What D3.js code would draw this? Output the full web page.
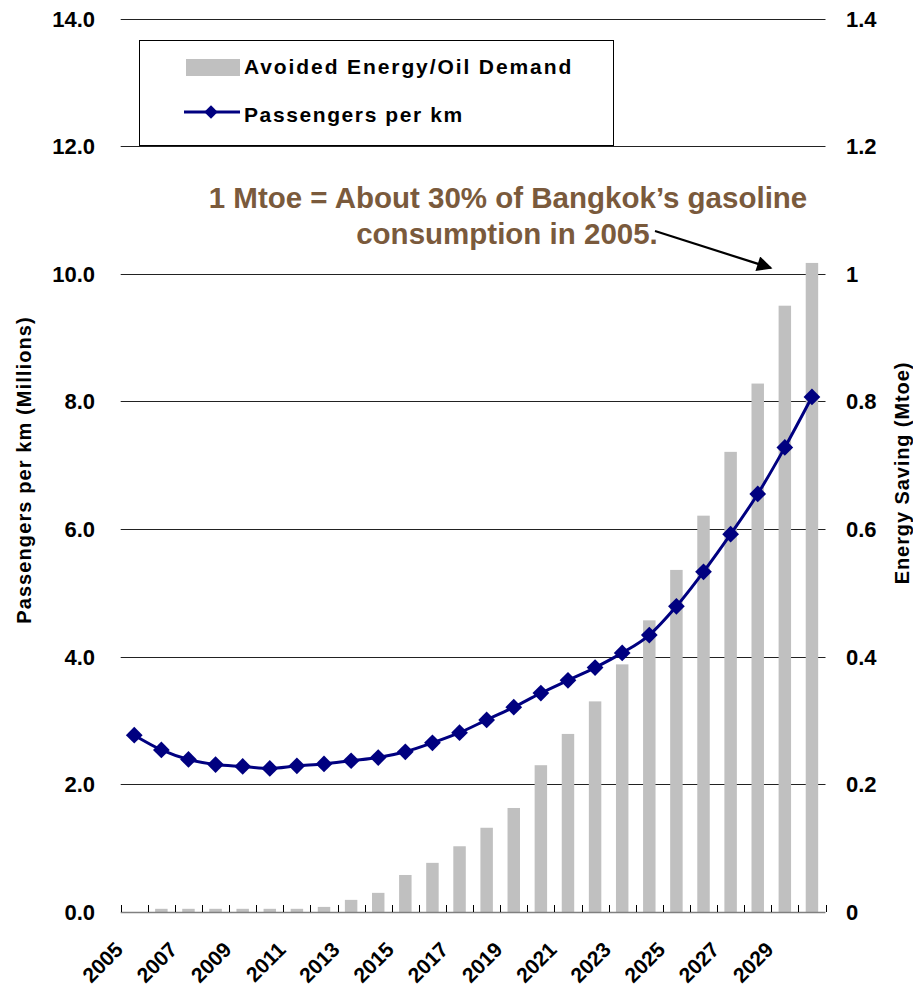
<!DOCTYPE html>
<html>
<head>
<meta charset="utf-8">
<script src="https://cdn.jsdelivr.net/npm/d3@7"></script>
<style>
  html, body { margin: 0; padding: 0; background: #fff; }
  svg text { font-family: Arial, "Liberation Sans", Helvetica, sans-serif; font-weight: bold; }
</style>
</head>
<body>
<svg id="chart" width="913" height="987"></svg>
<script>
// Yearly projection, 2005–2030
const years = d3.range(2005, 2031);
// Passengers per km (millions), left axis
const passengers = [2.77, 2.54, 2.39, 2.31, 2.28, 2.25, 2.29, 2.32, 2.37, 2.42, 2.51, 2.65, 2.81,
                    3.01, 3.21, 3.43, 3.63, 3.83, 4.06, 4.34, 4.79, 5.33, 5.92, 6.55, 7.28, 8.07];
// Avoided energy / oil demand (Mtoe), right axis
const energySaving = [0, 0.005, 0.005, 0.005, 0.005, 0.005, 0.005, 0.008, 0.019, 0.030, 0.058, 0.077, 0.103,
                      0.132, 0.163, 0.230, 0.279, 0.330, 0.388, 0.457, 0.536, 0.621, 0.721, 0.828, 0.950, 1.017];
const leftTicks = [0, 2, 4, 6, 8, 10, 12, 14];
const rightTicks = [0, 0.2, 0.4, 0.6, 0.8, 1.0, 1.2, 1.4];
const xLabelYears = years.filter((y, i) => i % 2 === 0);

const svg = d3.select("#chart");
const plotLeft = 120.7, plotRight = 825.5, plotTop = 18.5, plotBottom = 912;

const x = d3.scaleBand().domain(years).range([plotLeft, plotRight]).paddingInner(0.54).paddingOuter(0.27);
const xc = yr => x(yr) + x.bandwidth() / 2;
const yL = d3.scaleLinear().domain([0, 14]).range([plotBottom, plotTop]);
const yR = d3.scaleLinear().domain([0, 1.4]).range([plotBottom, plotTop]);

// Horizontal gridlines (the baseline is drawn with the category axis)
svg.append("g")
  .selectAll("line")
  .data(leftTicks.filter(d => d > 0))
  .join("line")
  .attr("x1", plotLeft).attr("x2", plotRight)
  .attr("y1", d => Math.round(yL(d)) + 0.5).attr("y2", d => Math.round(yL(d)) + 0.5)
  .attr("stroke", "#222").attr("stroke-width", 1);

// Bars
svg.append("g")
  .selectAll("rect")
  .data(years.map((yr, i) => ({ yr, v: energySaving[i] })))
  .join("rect")
  .attr("x", d => x(d.yr))
  .attr("width", x.bandwidth())
  .attr("y", d => yR(d.v))
  .attr("height", d => plotBottom - yR(d.v))
  .attr("fill", "#c0c0c0");

// Category axis: baseline and boundary ticks
const boundaries = d3.range(years.length + 1).map(i => plotLeft + i * (plotRight - plotLeft) / years.length);
svg.append("line")
  .attr("x1", plotLeft).attr("x2", plotRight)
  .attr("y1", plotBottom + 0.5).attr("y2", plotBottom + 0.5)
  .attr("stroke", "#808080").attr("stroke-width", 1.6);
svg.append("g")
  .selectAll("line")
  .data(boundaries)
  .join("line")
  .attr("x1", d => Math.round(d) + 0.5).attr("x2", d => Math.round(d) + 0.5)
  .attr("y1", plotBottom).attr("y2", plotBottom - 7)
  .attr("stroke", "#000").attr("stroke-width", 1);

// Year labels, rotated
svg.append("g")
  .selectAll("text")
  .data(xLabelYears)
  .join("text")
  .attr("transform", d => `translate(${xc(d) - 10},${951}) rotate(-45)`)
  .attr("text-anchor", "end")
  .attr("font-size", 21)
  .attr("fill", "#000")
  .text(d => d);

// Left value labels
svg.append("g")
  .selectAll("text")
  .data(leftTicks)
  .join("text")
  .attr("x", 95).attr("y", d => yL(d) + 8)
  .attr("text-anchor", "end")
  .attr("font-size", 22)
  .text(d => d3.format(".1f")(d));

// Right value labels
svg.append("g")
  .selectAll("text")
  .data(rightTicks)
  .join("text")
  .attr("x", 846).attr("y", d => yR(d) + 8)
  .attr("text-anchor", "start")
  .attr("font-size", 22)
  .text(d => (d === 0 || d === 1) ? d3.format("d")(d) : d3.format(".1f")(d));

// Axis titles
svg.append("text")
  .attr("transform", "translate(31,470) rotate(-90)")
  .attr("text-anchor", "middle")
  .attr("font-size", 20)
  .attr("letter-spacing", 1.1)
  .text("Passengers per km (Millions)");
svg.append("text")
  .attr("transform", "translate(909,473) rotate(-90)")
  .attr("text-anchor", "middle")
  .attr("font-size", 20)
  .attr("letter-spacing", 0.9)
  .text("Energy Saving (Mtoe)");

// Passenger line with diamond markers
const line = d3.line()
  .x((d, i) => xc(years[i]))
  .y(d => yL(d))
  .curve(d3.curveMonotoneX);
svg.append("path")
  .datum(passengers)
  .attr("d", line)
  .attr("fill", "none")
  .attr("stroke", "#000080")
  .attr("stroke-width", 3);
const diamond = d3.symbol().type(d3.symbolSquare).size(140);
svg.append("g")
  .selectAll("path")
  .data(passengers)
  .join("path")
  .attr("transform", (d, i) => `translate(${xc(years[i])},${yL(d)}) rotate(45)`)
  .attr("d", diamond)
  .attr("fill", "#000080");

// Legend
const lg = svg.append("g");
lg.append("rect")
  .attr("x", 139.5).attr("y", 40.5).attr("width", 474).attr("height", 105)
  .attr("fill", "#fff").attr("stroke", "#000").attr("stroke-width", 1);
lg.append("rect")
  .attr("x", 186).attr("y", 59).attr("width", 54).attr("height", 17)
  .attr("fill", "#c0c0c0");
lg.append("text").attr("x", 244).attr("y", 74).attr("font-size", 21)
  .attr("letter-spacing", 1.9).text("Avoided Energy/Oil Demand");
lg.append("line")
  .attr("x1", 184).attr("x2", 240).attr("y1", 112).attr("y2", 112)
  .attr("stroke", "#000080").attr("stroke-width", 3);
lg.append("path")
  .attr("transform", "translate(211,112) rotate(45)")
  .attr("d", d3.symbol().type(d3.symbolSquare).size(90))
  .attr("fill", "#000080");
lg.append("text").attr("x", 244).attr("y", 122).attr("font-size", 21)
  .attr("letter-spacing", 1.6).text("Passengers per km");

// Annotation
const note = svg.append("g").attr("fill", "#7a5a3c");
note.append("text")
  .attr("x", 508).attr("y", 208).attr("text-anchor", "middle")
  .attr("font-size", 29.5)
  .style("font-family", "'Liberation Sans Narrow', 'Arial Narrow', Arial, sans-serif")
  .text("1 Mtoe = About 30% of Bangkok\u2019s gasoline");
note.append("text")
  .attr("x", 507).attr("y", 244).attr("text-anchor", "middle")
  .attr("font-size", 29.5)
  .style("font-family", "'Liberation Sans Narrow', 'Arial Narrow', Arial, sans-serif")
  .text("consumption in 2005.");

svg.append("defs").append("marker")
  .attr("id", "arrowhead")
  .attr("viewBox", "0 0 10 10")
  .attr("refX", 9).attr("refY", 5)
  .attr("markerWidth", 8).attr("markerHeight", 7)
  .attr("markerUnits", "strokeWidth")
  .attr("orient", "auto")
  .append("path").attr("d", "M0,0 L10,5 L0,10 z").attr("fill", "#000");
svg.append("line")
  .attr("x1", 655).attr("y1", 231).attr("x2", 771).attr("y2", 268)
  .attr("stroke", "#000").attr("stroke-width", 2.2)
  .attr("marker-end", "url(#arrowhead)");
</script>
</body>
</html>
